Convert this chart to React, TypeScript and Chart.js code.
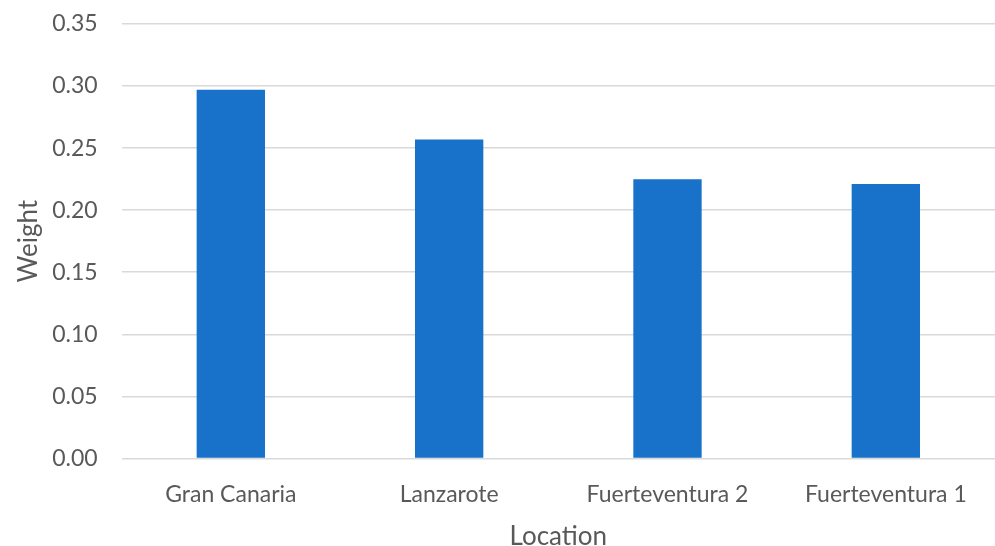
import React, { useEffect, useRef } from "react";
import { Chart, registerables } from "chart.js";

Chart.register(...registerables);

const categories = ["Gran Canaria", "Lanzarote", "Fuerteventura 2", "Fuerteventura 1"];
const weights = [0.297, 0.257, 0.225, 0.221];
const yTicks = [0, 0.05, 0.1, 0.15, 0.2, 0.25, 0.3, 0.35];

const FONT = "Lato, 'Open Sans', sans-serif";
const TEXT = "#595959";

export default function App() {
  const ref = useRef<HTMLCanvasElement>(null);
  useEffect(() => {
    document.body.style.margin = "0";
    const chart = new Chart(ref.current!, {
      type: "bar",
      data: {
        labels: categories,
        datasets: [
          {
            label: "Weight",
            data: weights,
            backgroundColor: "#1872C9",
            borderWidth: 0,
            categoryPercentage: 1,
            barPercentage: 0.313,
          },
        ],
      },
      options: {
        responsive: false,
        animation: false,
        layout: { padding: { left: 13, right: 0, top: 0, bottom: -4 } },
        plugins: { legend: { display: false }, tooltip: { enabled: false } },
        scales: {
          x: {
            grid: { display: false, drawTicks: false },
            border: { display: false },
            ticks: { color: TEXT, font: { family: FONT, size: 23 }, padding: 22, maxRotation: 0 },
            title: { display: true, text: "Location", color: TEXT, font: { family: FONT, size: 26, lineHeight: 1 }, padding: { top: -6, bottom: 0 } },
          },
          y: {
            min: 0,
            max: 0.35,
            afterBuildTicks: (axis: any) => {
              axis.ticks = yTicks.map((v) => ({ value: v }));
            },
            afterFit: (axis: any) => {
              axis.paddingTop = 24;
              axis.paddingBottom = 0;
            },
            grid: { color: "#D9D9D9", lineWidth: 1.5, drawTicks: false },
            border: { display: false },
            ticks: {
              color: TEXT,
              font: { family: FONT, size: 23 },
              padding: 24,
              callback: (v: any) => Number(v).toFixed(2),
            },
            title: { display: true, text: "Weight", color: TEXT, font: { family: FONT, size: 26 }, padding: { top: 0, bottom: -16 } },
          },
        },
      },
    });
    return () => chart.destroy();
  }, []);
  return (
    <div style={{ width: 995, height: 546 }}>
      <canvas ref={ref} width={995} height={546} style={{ display: "block" }} />
    </div>
  );
}
